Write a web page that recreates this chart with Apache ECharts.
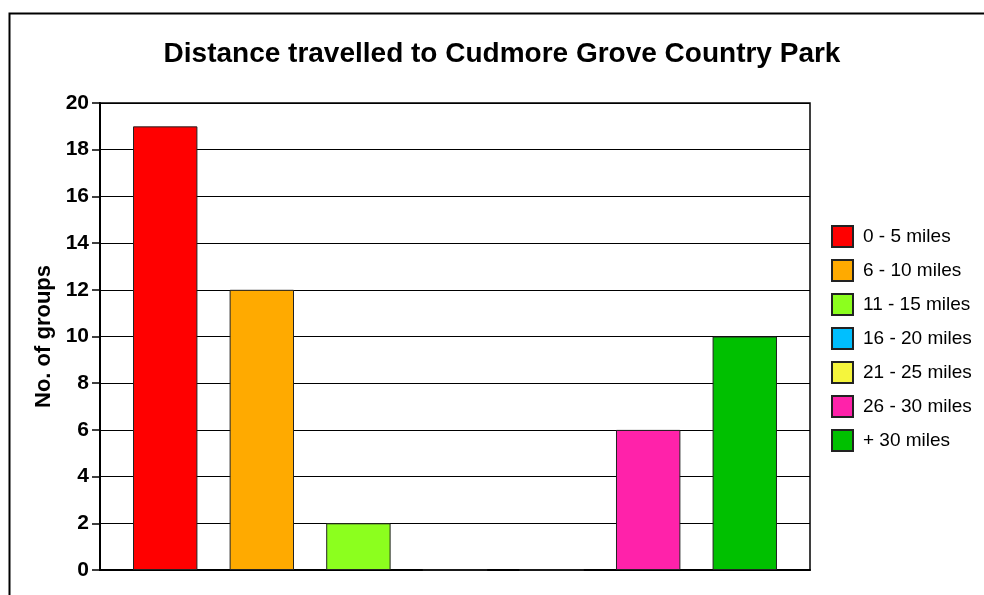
<!DOCTYPE html>
<html>
<head>
<meta charset="utf-8">
<script src="https://cdn.jsdelivr.net/npm/echarts@6/dist/echarts.min.js"></script>
<style>
  html, body { margin: 0; padding: 0; background: #fff; }
  #chart { width: 984px; height: 595px; }
</style>
</head>
<body>
<div id="chart"></div>
<script>
// Distance bands (one series per band) and the number of groups in each
const bands = ['0 - 5 miles', '6 - 10 miles', '11 - 15 miles', '16 - 20 miles', '21 - 25 miles', '26 - 30 miles', '+ 30 miles'];
const groups = [19, 12, 2, 0, 0, 6, 10];
const bandColors = ['#FF0000', '#FFAA00', '#8CFF1E', '#00BFFF', '#F5F53C', '#FF22AA', '#00C000'];
const yTicks = [0, 2, 4, 6, 8, 10, 12, 14, 16, 18, 20];

const FONT = '"Liberation Sans", Arial, sans-serif';

const chart = echarts.init(document.getElementById('chart'), null, { renderer: 'canvas' });

const series = bands.map((name, i) => ({
  name: name,
  type: 'bar',
  data: [groups[i]],
  barGap: '50%',
  barCategoryGap: '9.3%',
  itemStyle: { color: bandColors[i], borderColor: '#222', borderWidth: 1 },
  emphasis: { disabled: true },
  animation: false
}));

chart.setOption({
  animation: false,
  backgroundColor: '#fff',
  title: {
    text: 'Distance travelled to Cudmore Grove Country Park',
    left: 502,
    textAlign: 'center',
    top: 40,
    padding: 0,
    textStyle: { fontFamily: FONT, fontSize: 28, fontWeight: 'bold', color: '#000' }
  },
  legend: {
    orient: 'vertical',
    left: 831,
    top: 225,
    padding: 0,
    itemWidth: 21,
    itemHeight: 21,
    itemGap: 11,
    icon: 'rect',
    selectedMode: false,
    textStyle: { fontFamily: FONT, fontSize: 19, lineHeight: 21, color: '#000', padding: [0, 0, 0, 5] },
    data: bands
  },
  grid: {
    left: 100, top: 103, right: 174, bottom: 25,
    show: true, borderColor: '#000', borderWidth: 1.5,
    containLabel: false
  },
  xAxis: {
    type: 'category',
    data: [''],
    axisLine: { lineStyle: { color: '#000', width: 2 } },
    axisTick: { show: false },
    axisLabel: { show: false }
  },
  yAxis: {
    type: 'value',
    min: yTicks[0],
    max: yTicks[yTicks.length - 1],
    interval: 2,
    name: 'No. of groups',
    nameLocation: 'middle',
    nameGap: 38,
    nameTextStyle: { fontFamily: FONT, fontSize: 22, fontWeight: 'bold', color: '#000' },
    axisLine: { show: true, lineStyle: { color: '#000', width: 2 } },
    axisTick: { show: true, length: 8, lineStyle: { color: '#000', width: 1.5 } },
    axisLabel: { fontFamily: FONT, fontSize: 21, fontWeight: 'bold', color: '#000', margin: 11 },
    splitLine: { lineStyle: { color: '#000', width: 1 } }
  },
  graphic: [{
    type: 'rect',
    left: 7, top: 11,
    shape: { width: 1100, height: 700 },
    style: { fill: 'none', stroke: '#000', lineWidth: 2 },
    silent: true
  }],
  series: series
});
</script>
</body>
</html>
